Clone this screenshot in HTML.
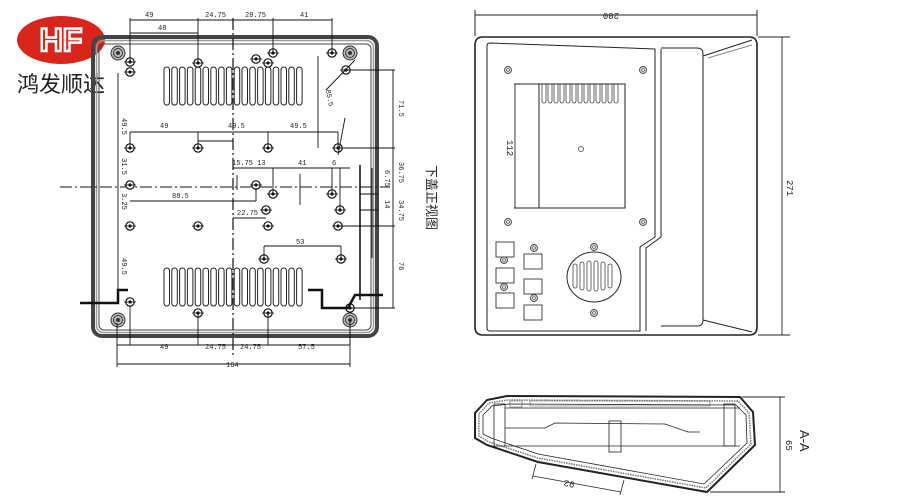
<!DOCTYPE html>
<html><head><meta charset="utf-8"><style>
html,body{margin:0;padding:0;background:#fff;width:900px;height:500px;overflow:hidden}
svg{display:block}
text{font-family:"Liberation Mono",monospace;font-size:7px;fill:#222}
.cn{font-family:"Liberation Sans","Noto Sans CJK SC",sans-serif}
</style></head><body>
<svg width="900" height="500" viewBox="0 0 900 500" xmlns="http://www.w3.org/2000/svg">
<defs>
<g id="h"><circle r="4.2" fill="#fff" stroke="#111" stroke-width="1.2"/><circle r="1.6" fill="#111"/><line x1="-6" y1="0" x2="6" y2="0" stroke="#111" stroke-width="0.8"/></g>
<g id="b"><circle r="7" fill="#bbb" stroke="#333" stroke-width="1"/><circle r="4.5" fill="none" stroke="#333"/><circle r="2" fill="#333"/></g>
<g id="s"><rect x="0" y="0" width="5.5" height="38" rx="2.7" fill="#fff" stroke="#222" stroke-width="1"/></g>
<g id="rh"><circle r="3.5" fill="#ddd" stroke="#444" stroke-width="0.9"/><circle r="1.5" fill="none" stroke="#444" stroke-width="0.6"/></g>
<g id="sq"><rect width="18" height="15" fill="#fff" stroke="#333" stroke-width="0.9"/></g>
</defs>

<!-- logo -->
<ellipse cx="61" cy="40" rx="44" ry="24" fill="#d9261c"/>
<text x="61" y="51" text-anchor="middle" style="font-family:'Liberation Sans',sans-serif;font-size:32px;font-weight:bold;fill:none;stroke:#fff;stroke-width:2.5">HF</text>
<text x="17" y="92" class="cn" style="font-size:22px;fill:#222">鸿发顺达</text>

<!-- LEFT VIEW -->
<rect x="93" y="37" width="284" height="299" rx="9" fill="none" stroke="#444" stroke-width="4"/>
<rect x="96.5" y="40.5" width="277" height="292" rx="7" fill="none" stroke="#999" stroke-width="1.5"/>
<rect x="99" y="44" width="272" height="286" rx="5" fill="none" stroke="#444" stroke-width="1"/>
<line x1="360" y1="165" x2="360" y2="300" stroke="#444" stroke-width="2"/>
<!-- centre lines -->
<line x1="233" y1="18" x2="233" y2="355" stroke="#111" stroke-width="1.2" stroke-dasharray="12 3 2 3"/>
<line x1="60" y1="187" x2="390" y2="187" stroke="#111" stroke-width="1" stroke-dasharray="12 3 2 3"/>
<!-- slots -->
<g transform="translate(164,67)">
<use href="#s" x="0"/><use href="#s" x="7.8"/><use href="#s" x="15.6"/><use href="#s" x="23.4"/><use href="#s" x="31.2"/><use href="#s" x="39"/><use href="#s" x="46.8"/><use href="#s" x="54.6"/><use href="#s" x="62.4"/><use href="#s" x="70.2"/><use href="#s" x="78"/><use href="#s" x="85.8"/><use href="#s" x="93.6"/><use href="#s" x="101.4"/><use href="#s" x="109.2"/><use href="#s" x="117"/><use href="#s" x="124.8"/><use href="#s" x="132.6"/>
</g>
<g transform="translate(164,268)">
<use href="#s" x="0"/><use href="#s" x="7.8"/><use href="#s" x="15.6"/><use href="#s" x="23.4"/><use href="#s" x="31.2"/><use href="#s" x="39"/><use href="#s" x="46.8"/><use href="#s" x="54.6"/><use href="#s" x="62.4"/><use href="#s" x="70.2"/><use href="#s" x="78"/><use href="#s" x="85.8"/><use href="#s" x="93.6"/><use href="#s" x="101.4"/><use href="#s" x="109.2"/><use href="#s" x="117"/><use href="#s" x="124.8"/><use href="#s" x="132.6"/>
</g>
<!-- bosses -->
<use href="#b" x="118" y="53"/><use href="#b" x="350" y="53"/><use href="#b" x="118" y="320"/><use href="#b" x="350" y="320"/>
<!-- holes -->
<use href="#h" x="130" y="62"/><use href="#h" x="130" y="72"/><use href="#h" x="198" y="63"/><use href="#h" x="256" y="59"/><use href="#h" x="268" y="63"/><use href="#h" x="273" y="53"/><use href="#h" x="332" y="53"/><use href="#h" x="346" y="70"/>
<use href="#h" x="130" y="148"/><use href="#h" x="198" y="148"/><use href="#h" x="268" y="148"/><use href="#h" x="338" y="148"/>
<use href="#h" x="130" y="185"/><use href="#h" x="256" y="185"/><use href="#h" x="273" y="194"/><use href="#h" x="332" y="194"/>
<use href="#h" x="266" y="210"/><use href="#h" x="340" y="210"/>
<use href="#h" x="130" y="226"/><use href="#h" x="198" y="226"/><use href="#h" x="268" y="226"/><use href="#h" x="338" y="226"/>
<use href="#h" x="264" y="259"/><use href="#h" x="341" y="259"/>
<use href="#h" x="130" y="302"/><use href="#h" x="198" y="313"/><use href="#h" x="268" y="313"/><use href="#h" x="350" y="308"/>
<!-- dimension lines -->
<g stroke="#111" stroke-width="0.9" fill="none">
<line x1="130" y1="20" x2="332" y2="20"/>
<line x1="130" y1="18" x2="130" y2="62"/><line x1="198" y1="18" x2="198" y2="63"/><line x1="273" y1="18" x2="273" y2="53"/><line x1="332" y1="18" x2="332" y2="53"/>
<line x1="130" y1="33" x2="198" y2="33"/>
<line x1="130" y1="132" x2="338" y2="132"/><line x1="130" y1="132" x2="130" y2="148"/><line x1="198" y1="132" x2="198" y2="148"/><line x1="268" y1="132" x2="268" y2="148"/><line x1="338" y1="132" x2="338" y2="148"/>
<line x1="198" y1="141" x2="233" y2="141"/>
<line x1="233" y1="168" x2="350" y2="168"/><line x1="273" y1="168" x2="273" y2="194"/><line x1="332" y1="168" x2="332" y2="194"/><line x1="340" y1="168" x2="340" y2="210"/>
<line x1="130" y1="201" x2="256" y2="201"/><line x1="256" y1="188" x2="256" y2="201"/>
<line x1="233" y1="218" x2="266" y2="218"/>
<line x1="264" y1="246" x2="341" y2="246"/><line x1="264" y1="246" x2="264" y2="259"/><line x1="341" y1="246" x2="341" y2="259"/>
<line x1="118" y1="73" x2="118" y2="290"/>
<line x1="117" y1="345" x2="350" y2="345"/><line x1="130" y1="306" x2="130" y2="345"/><line x1="198" y1="313" x2="198" y2="345"/><line x1="268" y1="313" x2="268" y2="345"/><line x1="350" y1="320" x2="350" y2="345"/>
<line x1="117" y1="323" x2="117" y2="367"/><line x1="350" y1="323" x2="350" y2="367"/><line x1="117" y1="364" x2="350" y2="364"/>
<line x1="346" y1="70" x2="395" y2="70"/><line x1="393" y1="70" x2="393" y2="308"/><line x1="350" y1="308" x2="395" y2="308"/>
<line x1="338" y1="148" x2="395" y2="148"/><line x1="340" y1="226" x2="395" y2="226"/>
<line x1="372" y1="168" x2="372" y2="258"/><line x1="360" y1="194" x2="378" y2="194"/><line x1="360" y1="210" x2="378" y2="210"/>
<line x1="318" y1="56" x2="318" y2="148"/>
<line x1="326" y1="90" x2="355" y2="60"/><line x1="338" y1="155" x2="345" y2="118"/>
<line x1="237" y1="175" x2="237" y2="190"/>
<line x1="300" y1="174" x2="300" y2="205"/>
</g>
<!-- section cut marks -->
<g stroke="#111" stroke-width="2.5" fill="none">
<polyline points="80,303 118,303 118,290 128,290"/>
<polyline points="308,290 322,290 322,308 348,308 355,295 383,295"/>
</g>
<!-- dim texts -->
<text x="145" y="17">49</text><text x="205" y="17">24.75</text><text x="245" y="17">28.75</text><text x="300" y="17">41</text>
<text x="158" y="30">48</text>
<text x="160" y="128">49</text><text x="228" y="128">49.5</text><text x="290" y="128">49.5</text>
<text x="232" y="165">15.75 13</text><text x="298" y="165">41</text><text x="332" y="165">6</text>
<text x="172" y="198">88.5</text><text x="237" y="215">22.75</text><text x="296" y="244">53</text>
<text x="160" y="349">49</text><text x="205" y="349">24.75</text><text x="240" y="349">24.75</text><text x="298" y="349">57.5</text>
<text x="226" y="367">164</text>
<g font-size="6">
<text transform="translate(122,118) rotate(90)">49.5</text>
<text transform="translate(122,158) rotate(90)">31.5</text>
<text transform="translate(122,193) rotate(90)">3.25</text>
<text transform="translate(122,258) rotate(90)">49.5</text>
<text transform="translate(399,100) rotate(90)">71.5</text>
<text transform="translate(399,162) rotate(90)">36.75</text>
<text transform="translate(399,200) rotate(90)">34.75</text>
<text transform="translate(399,262) rotate(90)">76</text>
<text transform="translate(385,170) rotate(90)">6.75</text>
<text transform="translate(385,200) rotate(90)">14</text>
<text transform="translate(326,90) rotate(80)">85.5</text>
</g>
<text x="427" y="165" class="cn" transform="rotate(90 427 165)" style="font-size:13px;fill:#222">下盖正视图</text>

<!-- RIGHT VIEW -->
<g stroke="#222" fill="none">
<line x1="475" y1="10" x2="475" y2="36"/><line x1="757" y1="10" x2="757" y2="36"/>
<line x1="475" y1="15" x2="757" y2="15" stroke-width="0.9"/>
<line x1="758" y1="37" x2="790" y2="37"/><line x1="758" y1="335" x2="790" y2="335"/>
<line x1="782" y1="37" x2="782" y2="335" stroke-width="0.9"/>
<path d="M483,37 H749 Q757,37 757,45 V327 Q757,335 749,335 H483 Q475,335 475,327 V45 Q475,37 483,37 Z" stroke-width="1.6"/>
<path d="M490,43 L655,49 V237 L640,247 V331 L490,331 Q487,331 487,328 V46 Q487,43 490,43 Z" stroke-width="1"/>
<path d="M661,49 V237 L646,248 V331" stroke-width="1"/>
<path d="M661,48 H697 Q703,48 703,54 V320 Q703,326 697,326 H661" stroke-width="1"/>
<line x1="703" y1="56" x2="752" y2="40"/><line x1="703" y1="320" x2="752" y2="332"/>
<line x1="708" y1="58" x2="752" y2="45" stroke="#888"/>
<rect x="539" y="84" width="86" height="124" stroke-width="1"/>
<line x1="514" y1="84" x2="539" y2="84"/><line x1="514" y1="208" x2="539" y2="208"/><line x1="515" y1="84" x2="515" y2="208" stroke-width="0.9"/>
<ellipse cx="594" cy="277" rx="27" ry="25" stroke-width="1"/>
</g>
<g transform="translate(540,84)" stroke="#444" fill="none" stroke-width="0.8">
<path d="M2,0 v17 a2,2 0 0 0 4,0 v-17 M8,0 v17 a2,2 0 0 0 4,0 v-17 M14,0 v17 a2,2 0 0 0 4,0 v-17 M20,0 v17 a2,2 0 0 0 4,0 v-17 M26,0 v17 a2,2 0 0 0 4,0 v-17 M32,0 v17 a2,2 0 0 0 4,0 v-17 M38,0 v17 a2,2 0 0 0 4,0 v-17 M44,0 v17 a2,2 0 0 0 4,0 v-17 M50,0 v17 a2,2 0 0 0 4,0 v-17 M56,0 v17 a2,2 0 0 0 4,0 v-17 M62,0 v17 a2,2 0 0 0 4,0 v-17 M68,0 v17 a2,2 0 0 0 4,0 v-17 M74,0 v17 a2,2 0 0 0 4,0 v-17"/>
</g>
<g stroke="#444" fill="none" stroke-width="0.8">
<path d="M573,266 v20 a2,2 0 0 0 4,0 v-20 a2,2 0 0 0 -4,0 M580,264 v24 a2,2 0 0 0 4,0 v-24 a2,2 0 0 0 -4,0 M587,263 v26 a2,2 0 0 0 4,0 v-26 a2,2 0 0 0 -4,0 M594,263 v26 a2,2 0 0 0 4,0 v-26 a2,2 0 0 0 -4,0 M601,264 v24 a2,2 0 0 0 4,0 v-24 a2,2 0 0 0 -4,0 M608,266 v20 a2,2 0 0 0 4,0 v-20 a2,2 0 0 0 -4,0"/>
</g>
<circle cx="581" cy="149" r="2.5" fill="none" stroke="#666"/>
<use href="#rh" x="508" y="70"/><use href="#rh" x="643" y="70"/><use href="#rh" x="508" y="222"/><use href="#rh" x="643" y="222"/>
<use href="#rh" x="594" y="247"/><use href="#rh" x="594" y="313"/>
<use href="#rh" x="504" y="260"/><use href="#rh" x="504" y="287"/><use href="#rh" x="534" y="248"/><use href="#rh" x="534" y="298"/>
<use href="#sq" x="496" y="242"/><use href="#sq" x="496" y="268"/><use href="#sq" x="496" y="293"/>
<use href="#sq" x="524" y="254"/><use href="#sq" x="524" y="279"/><use href="#sq" x="524" y="305"/>
<text x="607" y="9" transform="rotate(180 613 11)" style="font-size:9px">200</text>
<text x="787" y="180" transform="rotate(90 787 180)" style="font-size:9px">271</text>
<text x="507" y="140" transform="rotate(90 507 140)" style="font-size:9px">112</text>

<!-- SECTION -->
<g stroke="#222" fill="none">
<polygon points="475,413 487,400 507,396 740,397 753,412 755,445 707,492 538,462 487,445 475,438" stroke-width="2"/>
<polygon points="479,414 489,403 508,400 738,401 749,413 751,444 706,488 538,458 489,442 479,436" stroke-width="1.5" stroke="#777" stroke-dasharray="1.5 1"/>
<polygon points="483,415 492,406 509,404 736,405 746,415 747,443 704,484 538,454 491,438 483,434" stroke-width="0.8"/>
<line x1="505" y1="408" x2="740" y2="408" stroke-width="0.8"/>
<line x1="505" y1="446" x2="740" y2="446" stroke-width="0.8"/>
<line x1="505" y1="428" x2="545" y2="428" stroke-width="0.7"/>
<polyline points="545,428 555,423 665,424 688,432 700,432" stroke-width="0.7"/>
<rect x="609" y="421" width="12" height="31" stroke-width="0.8"/>
<rect x="494" y="404" width="11" height="42" stroke-width="0.8"/>
<rect x="724" y="404" width="11" height="42" stroke-width="0.8"/>
<line x1="536" y1="464" x2="532" y2="479" stroke-width="0.8"/><line x1="624" y1="480" x2="620" y2="495" stroke-width="0.8"/>
<line x1="533" y1="476" x2="621" y2="492" stroke-width="0.8"/>
<line x1="742" y1="397" x2="785" y2="397"/><line x1="710" y1="492" x2="785" y2="492"/>
<line x1="780" y1="397" x2="780" y2="492" stroke-width="0.9"/>
<path d="M510,401 h12 v6 h-12 z M530,401 h180 v5 h-180 z" stroke-width="0.6" stroke="#555"/>
</g>
<text x="575" y="482" transform="rotate(190 575 482)" style="font-size:9px">92</text>
<text x="786" y="440" transform="rotate(90 786 440)" style="font-size:9px">65</text>
<text x="800" y="430" transform="rotate(90 800 430)" style="font-size:13px;font-family:'Liberation Sans',sans-serif">A-A</text>
</svg>
</body></html>
